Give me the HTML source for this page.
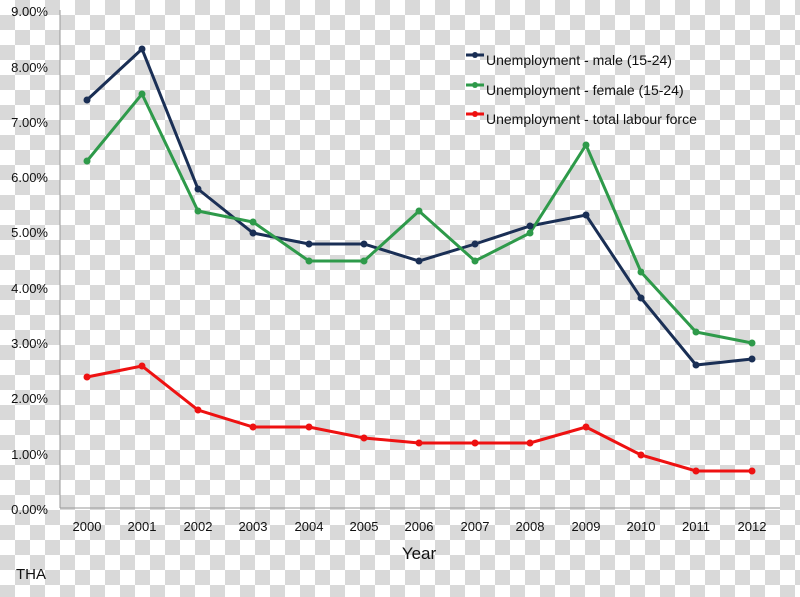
<!DOCTYPE html>
<html><head><style>html,body{margin:0;padding:0}svg{display:block}</style></head><body>
<svg width="800" height="597" xmlns="http://www.w3.org/2000/svg" font-family="Liberation Sans, sans-serif">
<defs><pattern id="ck" width="30" height="30" patternUnits="userSpaceOnUse">
<rect width="30" height="30" fill="#fff"/><rect x="15" y="0" width="15" height="15" fill="#d9d9d9"/><rect x="0" y="15" width="15" height="15" fill="#d9d9d9"/></pattern></defs>
<rect width="800" height="597" fill="url(#ck)"/>
<line x1="60" y1="10" x2="60" y2="508" stroke="#999" stroke-width="1"/>
<line x1="60" y1="508" x2="780" y2="508" stroke="#999" stroke-width="1"/>
<g font-size="13" fill="#111" text-anchor="end">
<text x="48" y="16">9.00%</text><text x="48" y="72">8.00%</text><text x="48" y="127">7.00%</text><text x="48" y="182">6.00%</text><text x="48" y="237">5.00%</text><text x="48" y="293">4.00%</text><text x="48" y="348">3.00%</text><text x="48" y="403">2.00%</text><text x="48" y="459">1.00%</text><text x="48" y="514">0.00%</text>
</g>
<g font-size="13" fill="#111" text-anchor="middle">
<text x="87" y="531">2000</text><text x="142" y="531">2001</text><text x="198" y="531">2002</text><text x="253" y="531">2003</text><text x="309" y="531">2004</text><text x="364" y="531">2005</text><text x="419" y="531">2006</text><text x="475" y="531">2007</text><text x="530" y="531">2008</text><text x="586" y="531">2009</text><text x="641" y="531">2010</text><text x="696" y="531">2011</text><text x="752" y="531">2012</text>
</g>
<text x="419" y="559" font-size="17" text-anchor="middle" fill="#111">Year</text>
<text x="16" y="579" font-size="15" fill="#111">THA</text>
<g id="lines" stroke-width="3" fill="none"></g>
<polyline fill="none" stroke="#1a2f55" stroke-width="3" points="87,100 142,49 198,189 253,233 309,244 364,244 419,261 475,244 530,226 586,215 641,298 696,365 752,359"/>
<polyline fill="none" stroke="#2e9a4a" stroke-width="3" points="87,161 142,94 198,211 253,222 309,261 364,261 419,211 475,261 530,233 586,145 641,272 696,332 752,343"/>
<polyline fill="none" stroke="#ee1111" stroke-width="3" points="87,377 142,366 198,410 253,427 309,427 364,438 419,443 475,443 530,443 586,427 641,455 696,471 752,471"/>
<g fill="#1a2f55"><circle cx="87" cy="100" r="3.5"/><circle cx="142" cy="49" r="3.5"/><circle cx="198" cy="189" r="3.5"/><circle cx="253" cy="233" r="3.5"/><circle cx="309" cy="244" r="3.5"/><circle cx="364" cy="244" r="3.5"/><circle cx="419" cy="261" r="3.5"/><circle cx="475" cy="244" r="3.5"/><circle cx="530" cy="226" r="3.5"/><circle cx="586" cy="215" r="3.5"/><circle cx="641" cy="298" r="3.5"/><circle cx="696" cy="365" r="3.5"/><circle cx="752" cy="359" r="3.5"/></g>
<g fill="#2e9a4a"><circle cx="87" cy="161" r="3.5"/><circle cx="142" cy="94" r="3.5"/><circle cx="198" cy="211" r="3.5"/><circle cx="253" cy="222" r="3.5"/><circle cx="309" cy="261" r="3.5"/><circle cx="364" cy="261" r="3.5"/><circle cx="419" cy="211" r="3.5"/><circle cx="475" cy="261" r="3.5"/><circle cx="530" cy="233" r="3.5"/><circle cx="586" cy="145" r="3.5"/><circle cx="641" cy="272" r="3.5"/><circle cx="696" cy="332" r="3.5"/><circle cx="752" cy="343" r="3.5"/></g>
<g fill="#ee1111"><circle cx="87" cy="377" r="3.5"/><circle cx="142" cy="366" r="3.5"/><circle cx="198" cy="410" r="3.5"/><circle cx="253" cy="427" r="3.5"/><circle cx="309" cy="427" r="3.5"/><circle cx="364" cy="438" r="3.5"/><circle cx="419" cy="443" r="3.5"/><circle cx="475" cy="443" r="3.5"/><circle cx="530" cy="443" r="3.5"/><circle cx="586" cy="427" r="3.5"/><circle cx="641" cy="455" r="3.5"/><circle cx="696" cy="471" r="3.5"/><circle cx="752" cy="471" r="3.5"/></g>
<g stroke-width="3">
<line x1="466" y1="55" x2="484" y2="55" stroke="#1a2f55"/><circle cx="475" cy="55" r="3" fill="#1a2f55"/>
<line x1="466" y1="85" x2="484" y2="85" stroke="#2e9a4a"/><circle cx="475" cy="85" r="3" fill="#2e9a4a"/>
<line x1="466" y1="114" x2="484" y2="114" stroke="#ee1111"/><circle cx="475" cy="114" r="3" fill="#ee1111"/>
</g>
<g font-size="14" fill="#111">
<text x="486" y="65">Unemployment - male (15-24)</text>
<text x="486" y="95">Unemployment - female (15-24)</text>
<text x="486" y="124">Unemployment - total labour force</text>
</g>
</svg>
</body></html>
